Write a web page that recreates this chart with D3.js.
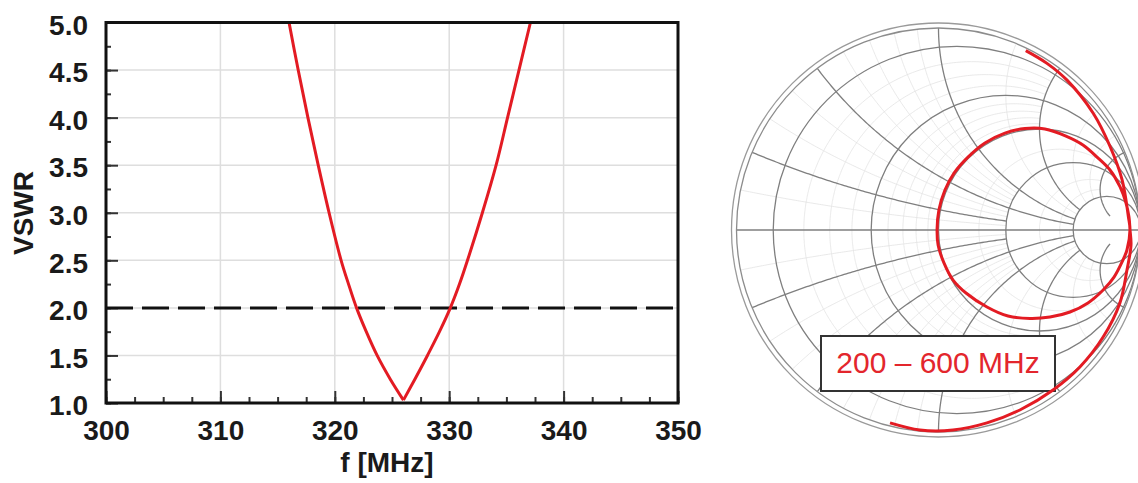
<!DOCTYPE html>
<html>
<head>
<meta charset="utf-8">
<script src="https://cdn.jsdelivr.net/npm/d3@7"></script>
<style>
  body { margin: 0; background: #fff; }
  svg { display: block; font-family: "Liberation Sans", Arial, sans-serif; }
</style>
</head>
<body>
<svg id="chart" width="1138" height="483"></svg>
<script>
// VSWR curve
const freq = [316.0, 316.8, 317.65, 318.55, 319.5, 320.55, 321.2, 321.9, 322.75, 323.7, 324.85, 326.0,
              327.0, 328.1, 329.15, 330.1, 330.9, 331.6, 332.9, 334.1, 335.1, 336.1, 337.1];
const vswr = [5.0, 4.5, 4.0, 3.5, 3.0, 2.5, 2.25, 2.0, 1.75, 1.5, 1.25, 1.03,
              1.25, 1.5, 1.75, 2.0, 2.25, 2.5, 3.0, 3.5, 4.0, 4.5, 5.0];
const xTicks = [300, 310, 320, 330, 340, 350];
const yTicks = [1.0, 1.5, 2.0, 2.5, 3.0, 3.5, 4.0, 4.5, 5.0];
const vswrLimit = 2.0;

// Smith chart trace (reflection coefficient, 200 - 600 MHz)
const smithRe = [0.432, 0.537, 0.635, 0.766, 0.850, 0.909, 0.940, 0.948,
  0.933, 0.913, 0.869, 0.815, 0.740, 0.651, 0.552, 0.453, 0.344, 0.240, 0.136, 0.072, 0.027, -0.002,
  -0.007, 0.002, 0.032, 0.077, 0.146, 0.230, 0.329, 0.428, 0.527, 0.631, 0.715, 0.785, 0.849, 0.899, 0.928, 0.943, 0.948,
  0.953, 0.933, 0.898, 0.815, 0.700, 0.567, 0.403, 0.240, 0.072, -0.092, -0.240];
const smithIm = [0.888, 0.825, 0.743, 0.578, 0.412, 0.248, 0.066, 0.002,
  -0.099, -0.149, -0.233, -0.297, -0.361, -0.406, -0.431, -0.438, -0.426, -0.381, -0.312, -0.248, -0.163, -0.074,
  0.005, 0.099, 0.198, 0.282, 0.361, 0.431, 0.480, 0.502, 0.500, 0.465, 0.421, 0.361, 0.297, 0.213, 0.134, 0.064, 0.002,
  -0.074, -0.198, -0.361, -0.530, -0.678, -0.792, -0.891, -0.955, -0.990, -0.990, -0.955];
const rMajor = [0.1, 0.5, 1, 2, 5];
const xMajor = [0.2, 0.5, 1, 2, 5];
const xMajorEnd = [2, 5, 5, 5, 10];
const rMinor = [0.2, 0.3, 0.4, 0.6, 0.7, 0.8, 0.9, 1.5, 3, 4];
const xMinor = [0.1, 0.3, 0.4, 0.6, 0.7, 0.8, 0.9, 1.5, 3, 4];
const bandLabel = "200 – 600 MHz";

const red = "#e31b23";
const svg = d3.select("#chart");

// ---------- VSWR plot ----------
const x = d3.scaleLinear().domain([300, 350]).range([106, 678]);
const y = d3.scaleLinear().domain([1, 5]).range([403, 22.5]);

const grid = svg.append("g");
grid.selectAll(".gx").data(xTicks.slice(1, -1)).join("line")
  .attr("x1", d => x(d)).attr("x2", d => x(d))
  .attr("y1", y(1)).attr("y2", y(5))
  .attr("stroke", "#dedede").attr("stroke-width", 1.5);
grid.selectAll(".gy").data(yTicks.slice(1, -1)).join("line")
  .attr("y1", d => y(d)).attr("y2", d => y(d))
  .attr("x1", x(300)).attr("x2", x(350))
  .attr("stroke", "#dedede").attr("stroke-width", 1.5);

// inward ticks
const minorX = d3.range(300, 350.01, 2.5);
const minorY = d3.range(1, 5.01, 0.25);
svg.append("g").attr("transform", "translate(0," + y(1) + ")")
  .call(d3.axisTop(x).tickValues(minorX).tickSize(6).tickFormat(""));
svg.append("g").attr("transform", "translate(0," + y(1) + ")")
  .call(d3.axisTop(x).tickValues(xTicks).tickSize(12).tickFormat(""));
svg.append("g").attr("transform", "translate(" + x(300) + ",0)")
  .call(d3.axisRight(y).tickValues(minorY).tickSize(5).tickFormat(""));
svg.append("g").attr("transform", "translate(" + x(300) + ",0)")
  .call(d3.axisRight(y).tickValues(yTicks).tickSize(12).tickFormat(""));
svg.selectAll(".tick line").attr("stroke", "#333").attr("stroke-width", 2);
svg.selectAll(".domain").remove();

// labels
const xLab = svg.append("g").attr("transform", "translate(0," + y(1) + ")")
  .call(d3.axisBottom(x).tickValues(xTicks).tickSize(0).tickPadding(17).tickFormat(d3.format("d")));
const yLab = svg.append("g").attr("transform", "translate(" + x(300) + ",0)")
  .call(d3.axisLeft(y).tickValues(yTicks).tickSize(0).tickPadding(18).tickFormat(d3.format(".1f")));
[xLab, yLab].forEach(a => {
  a.select(".domain").remove();
  a.selectAll("text").attr("font-size", 28).attr("font-weight", "bold")
    .attr("fill", "#1a1a1a").attr("font-family", "Liberation Sans, Arial, sans-serif");
});
yLab.selectAll("text").attr("dy", "0.42em");

svg.append("text").attr("x", 387).attr("y", 472).attr("text-anchor", "middle")
  .attr("font-size", 28).attr("font-weight", "bold").attr("fill", "#1a1a1a").text("f [MHz]");
svg.append("text").attr("transform", "translate(33,213) rotate(-90)").attr("text-anchor", "middle")
  .attr("font-size", 28).attr("font-weight", "bold").attr("fill", "#1a1a1a").text("VSWR");

// VSWR = 2 limit
svg.append("line")
  .attr("x1", x(300)).attr("x2", x(350)).attr("y1", y(vswrLimit)).attr("y2", y(vswrLimit))
  .attr("stroke", "#111").attr("stroke-width", 3).attr("stroke-dasharray", "27,9");

// red curve, two branches meeting at the minimum
const pts = freq.map((f, i) => [f, vswr[i]]);
const iMin = d3.minIndex(vswr);
const vLine = d3.line().x(d => x(d[0])).y(d => y(d[1])).curve(d3.curveCatmullRom.alpha(0.5));
[pts.slice(0, iMin + 1), pts.slice(iMin)].forEach(seg => {
  svg.append("path").attr("d", vLine(seg)).attr("fill", "none")
    .attr("stroke", red).attr("stroke-width", 3).attr("stroke-linejoin", "round");
});

// frame
svg.append("rect").attr("x", x(300)).attr("y", y(5))
  .attr("width", x(350) - x(300)).attr("height", y(1) - y(5))
  .attr("fill", "none").attr("stroke", "#111").attr("stroke-width", 3);

// ---------- Smith chart ----------
const cx = 938.5, cy = 230, R = 202;
const sx = d3.scaleLinear().domain([-1, 1]).range([cx - R, cx + R]);
const sy = d3.scaleLinear().domain([-1, 1]).range([cy + R, cy - R]);

function gamma(r, xx) {
  const den = (r + 1) * (r + 1) + xx * xx;
  return [(r * r + xx * xx - 1) / den, 2 * xx / den];
}
const sLine = d3.line().x(d => sx(d[0])).y(d => sy(d[1]));

svg.append("defs").append("clipPath").attr("id", "smithClip")
  .append("circle").attr("cx", cx).attr("cy", cy).attr("r", R);
const sg = svg.append("g").attr("clip-path", "url(#smithClip)");

function xArc(xx, rEnd) {
  const tEnd = rEnd / (1 + rEnd);
  return d3.range(0, 121).map(i => {
    const t = tEnd * i / 120;
    return gamma(t / (1 - t), xx);
  });
}
function rArc(r, xEnd) {
  return d3.range(-200, 201).map(i => gamma(r, xEnd * Math.sinh(3 * i / 200) / Math.sinh(3)));
}

// faint minor grid
rMinor.forEach(r => {
  sg.append("path").attr("d", sLine(rArc(r, r < 1 ? 2 : 5)))
    .attr("fill", "none").attr("stroke", "#e3e3e3").attr("stroke-width", 0.8);
});
xMinor.forEach(xx => {
  [xx, -xx].forEach(v => {
    sg.append("path").attr("d", sLine(xArc(v, xx < 1 ? 2 : 5)))
      .attr("fill", "none").attr("stroke", "#e3e3e3").attr("stroke-width", 0.8);
  });
});

// major grid
rMajor.forEach(r => {
  sg.append("circle").attr("cx", sx(r / (r + 1))).attr("cy", cy).attr("r", R / (r + 1))
    .attr("fill", "none").attr("stroke", "#7f7f7f").attr("stroke-width", 1.3);
});
xMajor.forEach((xx, i) => {
  [xx, -xx].forEach(v => {
    sg.append("path").attr("d", sLine(xArc(v, xMajorEnd[i])))
      .attr("fill", "none").attr("stroke", "#7f7f7f").attr("stroke-width", 1.3);
  });
});
sg.append("line").attr("x1", sx(-1)).attr("x2", sx(1)).attr("y1", sy(0)).attr("y2", sy(0))
  .attr("stroke", "#7f7f7f").attr("stroke-width", 1.3);

// rim
svg.append("circle").attr("cx", cx).attr("cy", cy).attr("r", R)
  .attr("fill", "none").attr("stroke", "#8c8c8c").attr("stroke-width", 1.3);
svg.append("circle").attr("cx", cx).attr("cy", cy).attr("r", R + 5)
  .attr("fill", "none").attr("stroke", "#9a9a9a").attr("stroke-width", 1.3);

// band label
svg.append("rect").attr("x", 821).attr("y", 336).attr("width", 234).attr("height", 55)
  .attr("fill", "#fff").attr("stroke", "#333").attr("stroke-width", 2);
svg.append("text").attr("x", 938).attr("y", 373).attr("text-anchor", "middle")
  .attr("font-size", 30).attr("fill", "#e3262d").text(bandLabel);

// impedance trace
const trace = smithRe.map((re, i) => [re, smithIm[i]]);
svg.append("path").attr("d", sLine.curve(d3.curveCatmullRom.alpha(0.5))(trace))
  .attr("fill", "none").attr("stroke", red).attr("stroke-width", 3).attr("stroke-linejoin", "round");
</script>
</body>
</html>
